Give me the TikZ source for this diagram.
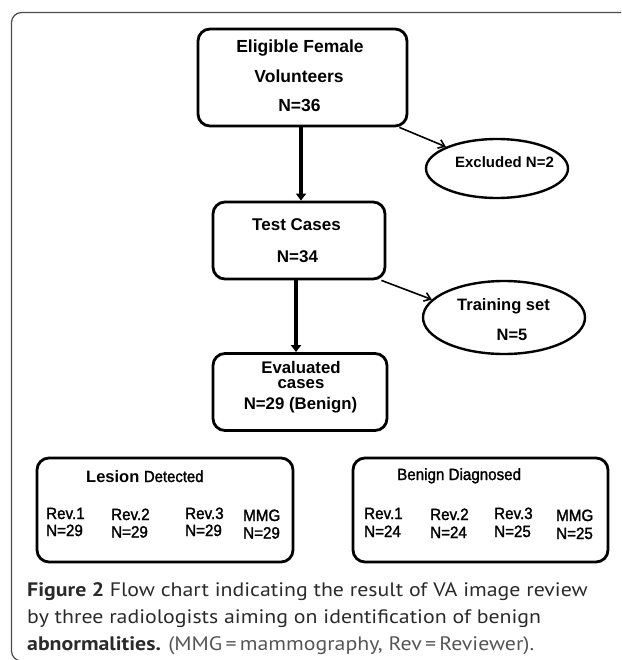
\documentclass[tikz,border=0pt]{standalone}
\usepackage{fontspec}
\setmainfont{Liberation Sans}
\newfontfamily\capfont[FakeStretch=1.12]{PT Sans}
\newfontfamily\revfont[FakeBold=1.6,FakeStretch=0.93]{Liberation Sans}
\usetikzlibrary{arrows.meta,shapes.geometric}
\definecolor{framegray}{HTML}{4A4A4A}
\definecolor{captext}{HTML}{2A2A2A}
\definecolor{capgray}{HTML}{555555}
\newcommand\fntA{\fontsize{17.5}{20}\selectfont\bfseries}
\newcommand\fntB{\fontsize{17}{20}\selectfont\bfseries}
\newcommand\fntC{\fontsize{16.8}{20}\selectfont\bfseries}
\newcommand\fntEx{\fontsize{15}{18}\selectfont\bfseries}
\newcommand\fntTr{\fontsize{16.5}{18}\selectfont\bfseries}
\newcommand\fntRev{\revfont\fontsize{16.3}{18}\selectfont}
\newcommand\fntCap{\capfont\fontsize{19.5}{27}\selectfont}
\begin{document}
\begin{tikzpicture}[x=1pt,y=-1pt,
  box/.style={draw, line width=2.8pt, rounded corners=12pt, inner sep=0pt},
  oval/.style={draw, ellipse, line width=2.4pt, inner sep=0pt},
  txt/.style={anchor=base, inner sep=0pt},
  txtl/.style={anchor=base west, inner sep=0pt},
  bigarrow/.style={line width=4pt, -{Triangle[width=10pt,length=7pt]}},
  thinarrow/.style={line width=1.6pt, -{Straight Barb[width=9pt,length=6pt]}}
]
\useasboundingbox (0,0) rectangle (621,660);
\clip (0,0) rectangle (621,660);
% outer frame
\draw[framegray, line width=1.2pt, rounded corners=10pt] (660,661) -- (11.5,661) -- (11.5,12.5) -- (660,12.5);

% boxes
\node[box, minimum width=209pt, minimum height=97pt] (b1) at (302.5,77.5) {};
\node[oval, minimum width=142pt, minimum height=59pt] (ex) at (497,168.5) {};
\node[box, minimum width=172pt, minimum height=77pt] (b2) at (299,240.5) {};
\node[oval, minimum width=162pt, minimum height=73pt] (tr) at (504,317.5) {};
\node[box, minimum width=174pt, minimum height=77pt] (b3) at (300,392) {};
\node[box, minimum width=256pt, minimum height=104pt] (les) at (165,510) {};
\node[box, minimum width=255pt, minimum height=104pt] (ben) at (480.5,510) {};

% texts
\node[txt, font=\fntA] (t1a) at (300,53) {Eligible Female};
\node[txt, font=\fntA] (t1b) at (299,82.5) {Volunteers};
\node[txt, font=\fntA] (t1c) at (299.5,112) {N=36};
\node[txt, font=\fntEx] (tex) at (504.5,168) {Excluded N=2};
\node[txt, font=\fntB] (t2a) at (296.5,230) {Test Cases};
\node[txt, font=\fntB] (t2b) at (297.5,262) {N=34};
\node[txt, font=\fntTr] (ttra) at (503.5,310) {Training set};
\node[txt, font=\fntTr] (ttrb) at (512,340) {N=5};
\node[inner sep=0pt, font=\fntC, align=center] (t3a) at (301,374.8) {Evaluated\\[-5.5pt]cases};
\node[txt, font=\fntC] (t3c) at (300.5,409.5) {N=29 (Benign)};

\node[txtl, font=\fntRev] (lt) at (86,482) {\normalfont\bfseries\fontsize{16.5}{18}\selectfont Lesion \revfont\mdseries\fontsize{16}{18}\selectfont Detected};
\node[txtl, font=\fntRev] (l1a) at (46,519) {Rev.1};
\node[txtl, font=\fntRev] (l1b) at (46,536) {N=29};
\node[txtl, font=\fntRev] (l2a) at (111,520) {Rev.2};
\node[txtl, font=\fntRev] (l2b) at (111,537.5) {N=29};
\node[txtl, font=\fntRev] (l3a) at (185,519) {Rev.3};
\node[txtl, font=\fntRev] (l3b) at (185,536) {N=29};
\node[txtl, font=\fntRev] (l4a) at (243,521) {MMG};
\node[txtl, font=\fntRev] (l4b) at (243,538.5) {N=29};

\node[txtl, font=\fntRev] (bt) at (397,480) {Benign Diagnosed};
\node[txtl, font=\fntRev] (g1a) at (364,519) {Rev.1};
\node[txtl, font=\fntRev] (g1b) at (364,537) {N=24};
\node[txtl, font=\fntRev] (g2a) at (430,520) {Rev.2};
\node[txtl, font=\fntRev] (g2b) at (430,538) {N=24};
\node[txtl, font=\fntRev] (g3a) at (494,519) {Rev.3};
\node[txtl, font=\fntRev] (g3b) at (494,537) {N=25};
\node[txtl, font=\fntRev] (g4a) at (556,521) {MMG};
\node[txtl, font=\fntRev] (g4b) at (556,539) {N=25};

% caption
\node[txtl, font=\fntCap, text=captext] (cap1) at (27,596) {\bfseries Figure 2 \mdseries Flow chart indicating the result of VA image review};
\node[txtl, font=\fntCap, text=captext] (cap2) at (27,623) {by three radiologists aiming on identification of benign};
\node[txtl, font=\fntCap, text=captext] (cap3) at (27,650) {\bfseries abnormalities. \mdseries\color{capgray}(MMG\,=\,mammography, Rev\,=\,Reviewer).};

% connectors
\draw[bigarrow] ([xshift=-1.5pt]b1.south) -- ([xshift=-1.5pt]b1.south |- b2.north);
\draw[bigarrow] ([xshift=-3pt]b2.south) -- ([xshift=-3pt]b2.south |- b3.north);
\draw[thinarrow] ([xshift=-9pt]b1.south east) -- (ex.157);
\draw[thinarrow] ([xshift=-5pt]b2.south east) -- (tr.166);
\end{tikzpicture}
\end{document}
